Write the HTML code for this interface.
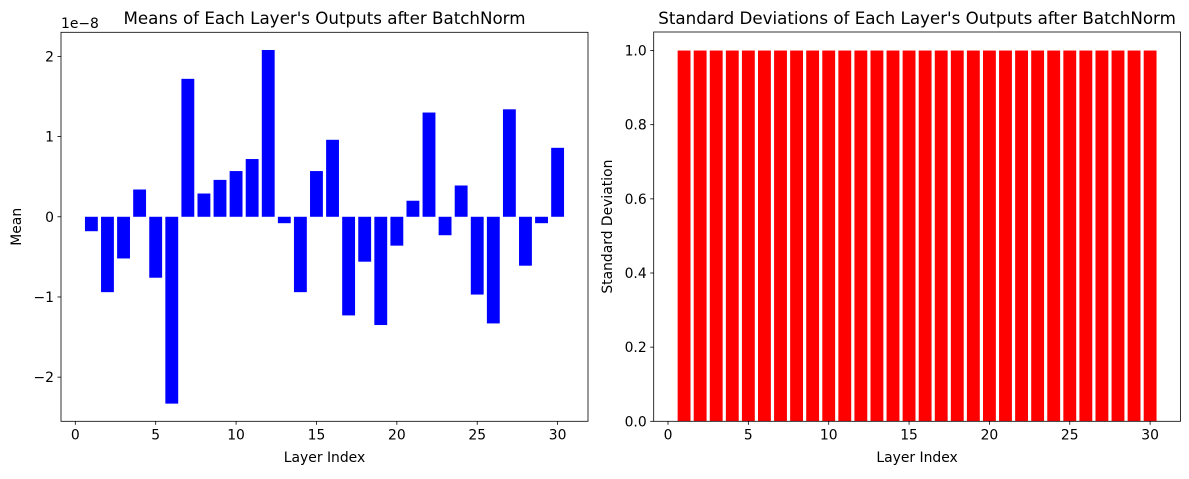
<!DOCTYPE html>
<html><head><meta charset="utf-8"><style>
body{margin:0;background:#fff}
svg text{font-family:"DejaVu Sans","Liberation Sans",sans-serif;fill:#000}
</style></head><body>
<svg id="fig" width="1189" height="474" xmlns="http://www.w3.org/2000/svg"></svg>
<script>
const layers = [1,2,3,4,5,6,7,8,9,10,11,12,13,14,15,16,17,18,19,20,21,22,23,24,25,26,27,28,29,30];
const means = [-0.18,-0.94,-0.52,0.34,-0.76,-2.33,1.72,0.29,0.46,0.57,0.72,2.08,-0.08,-0.94,0.57,0.96,-1.23,-0.56,-1.35,-0.36,0.20,1.30,-0.23,0.39,-0.97,-1.33,1.34,-0.61,-0.08,0.86];
const stds = [1,1,1,1,1,1,1,1,1,1,1,1,1,1,1,1,1,1,1,1,1,1,1,1,1,1,1,1,1,1];
const xTicks = [0,5,10,15,20,25,30];
const meanTicks = [-2,-1,0,1,2];
const meanTickLabels = ["\u22122","\u22121","0","1","2"];
const stdTicks = [0,0.2,0.4,0.6,0.8,1.0];
const stdTickLabels = ["0.0","0.2","0.4","0.6","0.8","1.0"];

const NS="http://www.w3.org/2000/svg";
const svg=document.getElementById('fig');
function mk(tag,attrs,parent){const e=document.createElementNS(NS,tag);for(const k in attrs)e.setAttribute(k,attrs[k]);(parent||svg).appendChild(e);return e;}

function panel(o){
  const g=mk('g',{});
  
  
  const dmin=Math.min(...o.vals,0),dmax=Math.max(...o.vals,0);
  const xmin=0.6-0.05*29.8,xmax=30.4+0.05*29.8;
  let ymin,ymax;
  if(o.zeroBase){ymin=0;ymax=dmax*1.05;}else{const r=dmax-dmin;ymin=dmin-0.05*r;ymax=dmax+0.05*r;}
  const X=v=>o.L+(v-xmin)/(xmax-xmin)*(o.R-o.L);
  const Y=v=>o.B-(v-ymin)/(ymax-ymin)*(o.B-o.T);
  layers.forEach((l,i)=>{
    const v=o.vals[i];
    const r=mk('rect',{x:X(l-0.4),width:X(l+0.4)-X(l-0.4),y:Math.min(Y(v),Y(0)),height:Math.abs(Y(v)-Y(0)),fill:o.color},g);
    
    
  });
  const frame=mk('rect',{x:o.L,y:o.T,width:o.R-o.L,height:o.B-o.T,fill:'none',stroke:'#000','stroke-width':0.8},g);
  
  
  xTicks.forEach(t=>{
    mk('line',{x1:X(t),x2:X(t),y1:o.B,y2:o.B+3.5,stroke:'#000','stroke-width':0.8},g);
    const tx=mk('text',{x:X(t),y:o.B+18,'text-anchor':'middle','font-size':13.9},g);
    tx.textContent=t;
    
    
  });
  o.yt.forEach((t,i)=>{
    mk('line',{x1:o.L-3.5,x2:o.L,y1:Y(t),y2:Y(t),stroke:'#000','stroke-width':0.8},g);
    const tx=mk('text',{x:o.L-7,y:Y(t)+5,'text-anchor':'end','font-size':13.9},g);
    tx.textContent=o.ytl[i];
    
    
  });
  const xl=mk('text',{x:(o.L+o.R)/2,y:462,'text-anchor':'middle','font-size':13.9},g);
  xl.textContent='Layer Index';
  
  
  const yl=mk('text',{x:0,y:0,'text-anchor':'middle','font-size':13.9,transform:`translate(${o.ylx},${(o.T+o.B)/2}) rotate(-90)`},g);
  yl.textContent=o.ylabel;
  
  
  const ti=mk('text',{x:(o.L+o.R)/2,y:24,'text-anchor':'middle','font-size':16.7},g);
  ti.textContent=o.title;
  
  
  if(o.offset){
    const of=mk('text',{x:o.L,y:28,'font-size':13.9},g);
    of.textContent=o.offset;
    
    
  }
}
panel({name:'means-chart',vals:means,color:'#0000ff',L:61,R:588,T:32.3,B:421.3,yt:meanTicks,ytl:meanTickLabels,ylabel:'Mean',ylx:21,title:"Means of Each Layer's Outputs after BatchNorm",offset:'1e\u22128'});
panel({name:'std-chart',vals:stds,color:'#ff0000',zeroBase:true,L:653.7,R:1180.5,T:32,B:421.3,yt:stdTicks,ytl:stdTickLabels,ylabel:'Standard Deviation',ylx:612,title:"Standard Deviations of Each Layer's Outputs after BatchNorm"});
</script>
</body></html>
